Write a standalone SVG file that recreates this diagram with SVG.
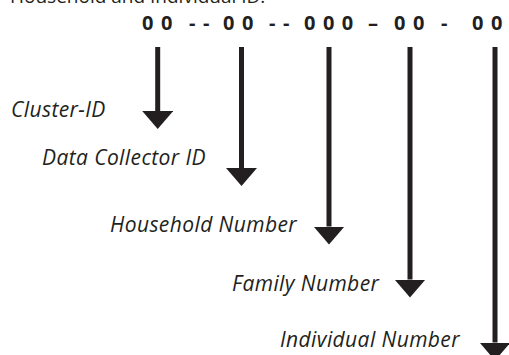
<svg xmlns="http://www.w3.org/2000/svg" width="509" height="355" viewBox="0 0 509 355">
  <style>
    .title { font-family: "Open Sans", "Noto Sans", "Liberation Sans", sans-serif; font-size: 19px; fill: #231f20; }
    .code { font-family: "Open Sans", "Noto Sans", "Liberation Sans", sans-serif; font-size: 20px; font-weight: bold; fill: #231f20; letter-spacing: 7.5px; }
    .label { font-family: "Open Sans", "Noto Sans", "Liberation Sans", sans-serif; font-size: 21px; font-style: italic; fill: #231f20; letter-spacing: 0.4px; }
    .shaft { stroke: #231f20; stroke-width: 5; fill: none; }
  </style>
  <defs>
    <marker id="head" markerUnits="userSpaceOnUse" markerWidth="18" markerHeight="31" viewBox="0 0 18 31" refX="0" refY="15.5" orient="auto">
      <path d="M0,0 L18,15.5 L0,31 Z" fill="#231f20"/>
    </marker>
  </defs>

  <!-- heading, partly cut off by the top edge -->
  <text class="title" x="10" y="2.5">Household and Individual ID:</text>

  <!-- ID pattern -->
  <g id="code">
    <text class="code" y="29.5">
      <tspan x="142">00</tspan>
      <tspan x="189">--</tspan>
      <tspan x="223">00</tspan>
      <tspan x="269">--</tspan>
      <tspan x="304">000</tspan>
      <tspan x="368">–</tspan>
      <tspan x="394">00</tspan>
      <tspan x="441">-</tspan>
      <tspan x="472">00</tspan>
    </text>
  </g>

  <!-- field labels -->
  <g id="cluster-id"><text class="label" x="11" y="117">Cluster-ID</text></g>
  <g id="data-collector-id"><text class="label" x="42" y="165">Data Collector ID</text></g>
  <g id="household-number"><text class="label" x="110" y="231.5">Household Number</text></g>
  <g id="family-number"><text class="label" x="232" y="290.5">Family Number</text></g>
  <g id="individual-number"><text class="label" x="280" y="346.5">Individual Number</text></g>

  <!-- arrows from each field of the pattern down to its label -->
  <g id="connectors">
    <line class="shaft" x1="157.7" y1="47" x2="157.7" y2="111" marker-end="url(#head)"/>
    <line class="shaft" x1="241.5" y1="47" x2="241.5" y2="168" marker-end="url(#head)"/>
    <line class="shaft" x1="329" y1="47" x2="329" y2="226.5" marker-end="url(#head)"/>
    <line class="shaft" x1="410" y1="47" x2="410" y2="279.5" marker-end="url(#head)"/>
    <line class="shaft" x1="495" y1="47" x2="495" y2="342.5" marker-end="url(#head)"/>
  </g>
</svg>
